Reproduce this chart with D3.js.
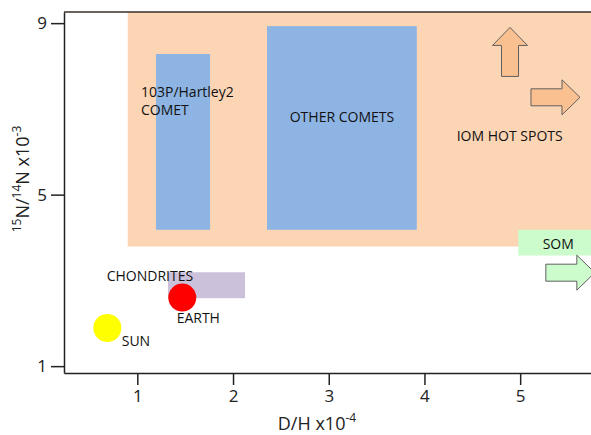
<!DOCTYPE html>
<html>
<head>
<meta charset="utf-8">
<script src="https://cdn.jsdelivr.net/npm/d3@7"></script>
<style>
  body { margin: 0; background: #fff; }
  svg { display: block; font-family: "Open Sans", sans-serif; }
  .tick text { font-size: 17px; fill: #222; }
  .lbl { font-size: 14px; fill: #111; }
</style>
</head>
<body>
<div class="chart"></div>
<script>
// axis ticks
const xTicks = [1, 2, 3, 4, 5]
const yTicks = [1, 5, 9]

// shaded regions in D/H x1e-4 and 15N/14N x1e-3
const regionNames = ['IOM HOT SPOTS', '103P/Hartley2', 'OTHER COMETS', 'CHONDRITES', 'SOM']
const regionX0 = [0.90, 1.195, 2.355, 1.32, 4.98]
const regionX1 = [5.80, 1.76, 3.92, 2.125, 5.80]
const regionY0 = [3.79, 4.18, 4.18, 2.585, 3.58]
const regionY1 = [9.30, 8.28, 8.93, 3.19, 4.18]
const regionFill = ['#fcd5b5', '#8eb4e3', '#8eb4e3', '#ccc1da', '#ccfccc']

// points
const pointNames = ['EARTH', 'SUN']
const pointX = [1.47, 0.687]
const pointY = [2.60, 1.89]
const pointFill = ['#ff0000', '#ffff00']

// arrows (tip position)
const arrowDir = ['up', 'right', 'right']
const arrowX = [4.894, 5.625, 5.78]
const arrowY = [8.90, 7.27, 3.18]
const arrowFill = ['#fac090', '#fac090', '#ccfccc']

// text labels: anchor in data units
const labelText = ['103P/Hartley2', 'COMET', 'OTHER COMETS', 'IOM HOT SPOTS', 'SOM', 'CHONDRITES', 'EARTH', 'SUN']
const labelX = [1.038, 1.038, 3.138, 4.337, 5.398, 0.680, 1.411, 0.837]
const labelY = [7.277, 6.85, 6.70, 6.258, 3.725, 2.993, 2.013, 1.47]
const labelAnchor = ['start', 'start', 'middle', 'start', 'middle', 'start', 'start', 'start']

const width = 591, height = 435
const margin = { top: 12, right: 0, bottom: 62, left: 64 }

const svg = d3.select('.chart').append('svg').attr('width', width).attr('height', height)

const x = d3.scaleLinear().domain([0.234, 5.74]).range([margin.left, width - margin.right])
const y = d3.scaleLinear().domain([0.84, 9.26]).range([height - margin.bottom, margin.top])

svg.append('clipPath').attr('id', 'plot')
  .append('rect')
  .attr('x', margin.left).attr('y', margin.top)
  .attr('width', width - margin.left - margin.right)
  .attr('height', height - margin.top - margin.bottom)

const g = svg.append('g').attr('clip-path', 'url(#plot)')

g.selectAll('rect.region').data(regionNames).enter().append('rect')
  .attr('class', 'region')
  .attr('x', (d, i) => x(regionX0[i]))
  .attr('y', (d, i) => y(regionY1[i]))
  .attr('width', (d, i) => x(regionX1[i]) - x(regionX0[i]))
  .attr('height', (d, i) => y(regionY0[i]) - y(regionY1[i]))
  .attr('fill', (d, i) => regionFill[i])

// block arrow, drawn pointing right with tip at origin
const len = 49, body = 17, head = 35, headLen = 18
const arrowPath = 'M0,0 L' + (-headLen) + ',' + (-head / 2) + ' L' + (-headLen) + ',' + (-body / 2) +
  ' L' + (-len) + ',' + (-body / 2) + ' L' + (-len) + ',' + (body / 2) + ' L' + (-headLen) + ',' + (body / 2) +
  ' L' + (-headLen) + ',' + (head / 2) + ' Z'

g.selectAll('path.arrow').data(arrowDir).enter().append('path')
  .attr('class', 'arrow')
  .attr('d', arrowPath)
  .attr('transform', (d, i) => 'translate(' + x(arrowX[i]) + ',' + y(arrowY[i]) + ')' + (d === 'up' ? ' rotate(-90)' : ''))
  .attr('fill', (d, i) => arrowFill[i])
  .attr('stroke', '#5f5f5f')
  .attr('stroke-width', 1)

g.selectAll('circle').data(pointNames).enter().append('circle')
  .attr('cx', (d, i) => x(pointX[i]))
  .attr('cy', (d, i) => y(pointY[i]))
  .attr('r', 14)
  .attr('fill', (d, i) => pointFill[i])

svg.selectAll('text.lbl').data(labelText).enter().append('text')
  .attr('class', 'lbl')
  .attr('x', (d, i) => x(labelX[i]))
  .attr('y', (d, i) => y(labelY[i]))
  .attr('text-anchor', (d, i) => labelAnchor[i])
  .text(d => d)

// axes
const xAxis = d3.axisBottom(x).tickValues(xTicks).tickFormat(d3.format('d')).tickSize(12).tickSizeOuter(0).tickPadding(5)
const yAxis = d3.axisLeft(y).tickValues(yTicks).tickFormat(d3.format('d')).tickSize(13).tickSizeOuter(0).tickPadding(4)

const gx = svg.append('g').attr('transform', 'translate(0,' + (height - margin.bottom) + ')').call(xAxis)
const gy = svg.append('g').attr('transform', 'translate(' + margin.left + ',0)').call(yAxis)
gx.attr('font-family', null).attr('font-size', null)
gy.attr('font-family', null).attr('font-size', null)
gx.select('.domain').attr('stroke', '#222').attr('stroke-width', 1.5)
gy.select('.domain').attr('stroke', '#222').attr('stroke-width', 1.5)
gx.selectAll('.tick line').attr('stroke', '#222').attr('stroke-width', 1.5)
gy.selectAll('.tick line').attr('stroke', '#222').attr('stroke-width', 1.5)

// top frame line
svg.append('line')
  .attr('x1', margin.left).attr('x2', width)
  .attr('y1', margin.top).attr('y2', margin.top)
  .attr('stroke', '#3a2e2a').attr('stroke-width', 1.5)

// axis titles
const xt = svg.append('text')
  .attr('x', 317).attr('y', 430)
  .attr('text-anchor', 'middle')
  .attr('font-size', 18).attr('fill', '#222')
xt.append('tspan').text('D/H x10')
xt.append('tspan').attr('font-size', 12).attr('dy', -8).text('-4')

const yt = svg.append('text')
  .attr('transform', 'translate(29,179) rotate(-90)')
  .attr('text-anchor', 'middle')
  .attr('font-size', 18).attr('fill', '#222')
yt.append('tspan').attr('font-size', 12).attr('dy', -8).text('15')
yt.append('tspan').attr('dy', 8).text('N/')
yt.append('tspan').attr('font-size', 12).attr('dy', -8).text('14')
yt.append('tspan').attr('dy', 8).text('N x10')
yt.append('tspan').attr('font-size', 12).attr('dy', -8).text('-3')
</script>
</body>
</html>
